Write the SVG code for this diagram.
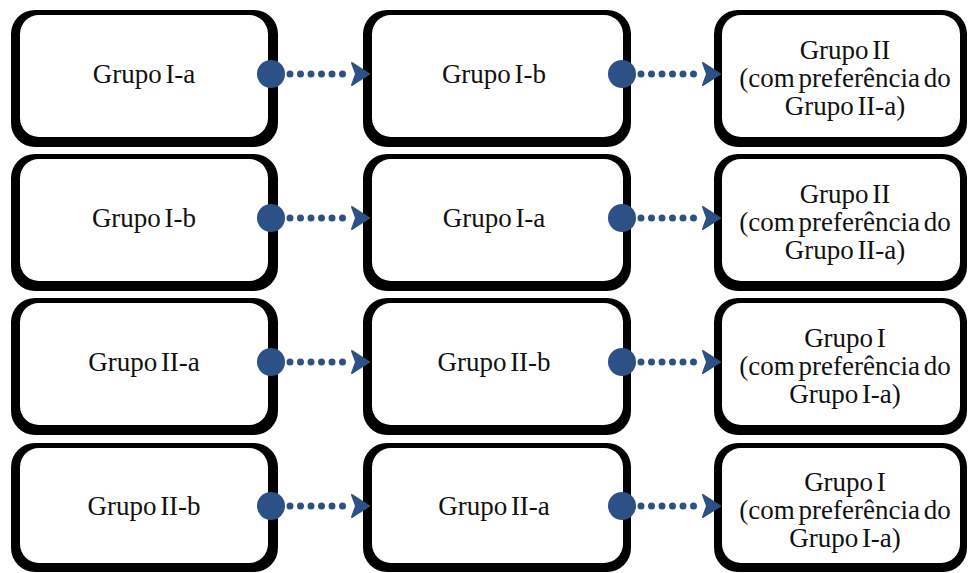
<svg xmlns="http://www.w3.org/2000/svg" width="969" height="573" viewBox="0 0 969 573">
  <style>
    .frame { fill: #000; }
    .face { fill: #fff; }
    .label { font-family: "Liberation Serif", "Times New Roman", serif; font-size: 27px; fill: #111; text-anchor: middle; word-spacing: -3px; }
    .dots { fill: none; stroke: #2B5186; stroke-width: 7; stroke-linecap: round; stroke-dasharray: 0 10.5; }
    .knob { fill: #2B5186; }
  </style>
  <defs>
    <marker id="head" markerUnits="userSpaceOnUse" viewBox="-2 -13 22 26" markerWidth="22" markerHeight="26" refX="0" refY="0" orient="auto">
      <path d="M0,-11 L17,0 L0,11 L4,0 Z" fill="#2B5186" stroke="#2B5186" stroke-width="2" stroke-linejoin="round"/>
    </marker>
  </defs>
  <rect width="969" height="573" fill="#fff"/>

  <!-- row 1 -->
  <g id="r1c1"><rect class="frame" x="11" y="10" width="267" height="137" rx="24"/><rect class="face" x="20" y="15" width="248" height="122" rx="19"/><text class="label" x="144" y="83">Grupo I-a</text></g>
  <g id="r1c2"><rect class="frame" x="363" y="10" width="268" height="137" rx="24"/><rect class="face" x="372" y="15" width="251" height="122" rx="19"/><text class="label" x="494" y="83">Grupo I-b</text></g>
  <g id="r1c3"><rect class="frame" x="714" y="10" width="253" height="137" rx="24"/><rect class="face" x="722" y="15" width="238" height="122" rx="19"/><text class="label" x="845" y="59">Grupo II</text><text class="label" x="845" y="87">(com preferência do</text><text class="label" x="845" y="115">Grupo II-a)</text></g>

  <!-- row 2 -->
  <g id="r2c1"><rect class="frame" x="11" y="154" width="267" height="137" rx="24"/><rect class="face" x="20" y="159" width="248" height="122" rx="19"/><text class="label" x="144" y="227">Grupo I-b</text></g>
  <g id="r2c2"><rect class="frame" x="363" y="154" width="268" height="137" rx="24"/><rect class="face" x="372" y="159" width="251" height="122" rx="19"/><text class="label" x="494" y="227">Grupo I-a</text></g>
  <g id="r2c3"><rect class="frame" x="714" y="154" width="253" height="137" rx="24"/><rect class="face" x="722" y="159" width="238" height="122" rx="19"/><text class="label" x="845" y="203">Grupo II</text><text class="label" x="845" y="231">(com preferência do</text><text class="label" x="845" y="259">Grupo II-a)</text></g>

  <!-- row 3 -->
  <g id="r3c1"><rect class="frame" x="11" y="298" width="267" height="137" rx="24"/><rect class="face" x="20" y="303" width="248" height="122" rx="19"/><text class="label" x="144" y="371">Grupo II-a</text></g>
  <g id="r3c2"><rect class="frame" x="363" y="298" width="268" height="137" rx="24"/><rect class="face" x="372" y="303" width="251" height="122" rx="19"/><text class="label" x="494" y="371">Grupo II-b</text></g>
  <g id="r3c3"><rect class="frame" x="714" y="298" width="253" height="137" rx="24"/><rect class="face" x="722" y="303" width="238" height="122" rx="19"/><text class="label" x="845" y="347">Grupo I</text><text class="label" x="845" y="375">(com preferência do</text><text class="label" x="845" y="403">Grupo I-a)</text></g>

  <!-- row 4 -->
  <g id="r4c1"><rect class="frame" x="11" y="443" width="267" height="129" rx="24"/><rect class="face" x="20" y="448" width="248" height="115" rx="19"/><text class="label" x="144" y="515">Grupo II-b</text></g>
  <g id="r4c2"><rect class="frame" x="363" y="443" width="268" height="129" rx="24"/><rect class="face" x="372" y="448" width="251" height="115" rx="19"/><text class="label" x="494" y="515">Grupo II-a</text></g>
  <g id="r4c3"><rect class="frame" x="714" y="443" width="253" height="129" rx="24"/><rect class="face" x="722" y="448" width="238" height="115" rx="19"/><text class="label" x="845" y="491">Grupo I</text><text class="label" x="845" y="519">(com preferência do</text><text class="label" x="845" y="547">Grupo I-a)</text></g>

  <!-- dotted connectors, each starting from a round knob -->
  <g id="connectors">
    <circle class="knob" cx="271" cy="74" r="14"/><path class="dots" d="M290,74 H352" marker-end="url(#head)"/>
    <circle class="knob" cx="622" cy="74" r="14"/><path class="dots" d="M641,74 H703" marker-end="url(#head)"/>
    <circle class="knob" cx="271" cy="218" r="14"/><path class="dots" d="M290,218 H352" marker-end="url(#head)"/>
    <circle class="knob" cx="622" cy="218" r="14"/><path class="dots" d="M641,218 H703" marker-end="url(#head)"/>
    <circle class="knob" cx="271" cy="362" r="14"/><path class="dots" d="M290,362 H352" marker-end="url(#head)"/>
    <circle class="knob" cx="622" cy="362" r="14"/><path class="dots" d="M641,362 H703" marker-end="url(#head)"/>
    <circle class="knob" cx="271" cy="506" r="14"/><path class="dots" d="M290,506 H352" marker-end="url(#head)"/>
    <circle class="knob" cx="622" cy="506" r="14"/><path class="dots" d="M641,506 H703" marker-end="url(#head)"/>
  </g>
</svg>
